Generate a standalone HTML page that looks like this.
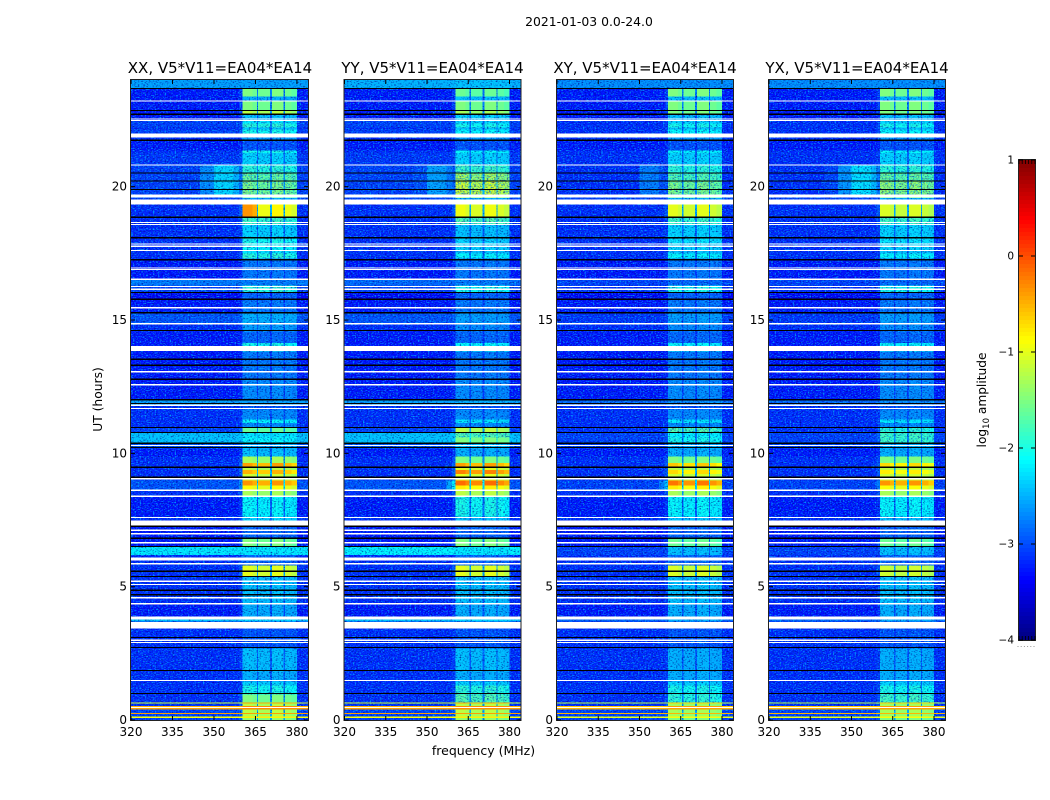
<!DOCTYPE html>
<html>
<head>
<meta charset="utf-8">
<title>2021-01-03 spectrogram</title>
<style>
html,body{margin:0;padding:0;background:#fff;width:1050px;height:800px;overflow:hidden}
svg{display:block}
text{font-family:"DejaVu Sans","Liberation Sans",sans-serif;fill:#000}
</style>
</head>
<body>
<svg id="figure" xmlns="http://www.w3.org/2000/svg" width="1050" height="800" viewBox="0 0 1050 800">
  <defs>
    <filter id="speckle-dark" x="0" y="0" width="100%" height="100%" color-interpolation-filters="sRGB">
      <feTurbulence type="fractalNoise" baseFrequency="0.55 0.8" numOctaves="1" seed="3"/>
      <feColorMatrix type="matrix" values="0 0 0 0 0  0 0 0 0 0  0 0 0 0 0.55  2.6 0 0 0 -1.3"/>
    </filter>
    <filter id="speckle-light" x="0" y="0" width="100%" height="100%" color-interpolation-filters="sRGB">
      <feTurbulence type="fractalNoise" baseFrequency="0.6 0.85" numOctaves="1" seed="11"/>
      <feColorMatrix type="matrix" values="0 0 0 0 0  0 0 0 0 0.75  0 0 0 0 1  3 0 0 0 -1.5"/>
    </filter>
  </defs>
  <rect x="0" y="0" width="1050" height="800" fill="#ffffff"/>
  <text x="589" y="26" font-size="12.4" text-anchor="middle">2021-01-03 0.0-24.0</text>
  <text x="483.5" y="755" font-size="12.5" text-anchor="middle">frequency (MHz)</text>
  <text transform="translate(102,399.5) rotate(-90)" font-size="12.3" text-anchor="middle">UT (hours)</text>
  <text transform="translate(986,400) rotate(-90)" font-size="12.2" text-anchor="middle">log<tspan font-size="8.5" dy="3">10</tspan><tspan dy="-3"> amplitude</tspan></text>
  <g id="panels"></g>
  <g id="colorbar"></g>
</svg>
<script>
// ---------- panel categories ----------
const panelTitles = ["XX, V5*V11=EA04*EA14", "YY, V5*V11=EA04*EA14", "XY, V5*V11=EA04*EA14", "YX, V5*V11=EA04*EA14"];
const freqTicks = [320, 335, 350, 365, 380];
const utTicks = [0, 5, 10, 15, 20];
const colorTicks = [1, 0, -1, -2, -3, -4];

// ---------- frequency channels (MHz edges) and how much each follows the in-band level ----------
const freqEdges = [320,330,340,345,350,354,357,359,360.4,362,364,365.5,366,368,370.2,370.9,373,375.2,375.6,378,380,384];
const bandWeight = [0,0,0,0,0,0,0,0.1,1,1,0.95,0.3,0.95,0.95,0.3,1,1,0.3,0.95,0.9,0];
const eveningBumpShape = [0,0.1,0.4,0.7,1,1,0.85,0.6,0,0,0,0,0,0,0,0,0,0,0,0,0];
const morningBumpShape = [0,0,0,0,0,0.2,0.7,1,0,0,0,0,0,0,0,0,0,0,0,0,0];

// ---------- time rows (upper UT edge in hours) ----------
const rowTopUT = [
24.00,23.68,23.38,23.19,22.86,22.71,22.46,22.37,22.22,22.14,
22.00,21.84,21.73,21.36,21.26,20.83,20.51,20.21,19.89,19.70,
19.58,19.33,18.85,18.56,18.08,17.87,17.58,17.50,17.31,16.52,
16.30,16.03,15.73,15.24,14.83,14.57,14.14,13.82,12.77,12.00,
11.84,11.64,11.27,11.14,10.97,10.78,10.60,10.40,10.18,9.88,
9.64,9.47,9.38,9.22,9.09,8.98,8.79,8.60,8.38,7.63,
7.29,6.82,6.51,6.18,5.98,5.79,5.36,4.33,3.76,3.69,
3.43,2.68,1.82,1.43,1.29,0.96,0.66,0.61,0.53,0.45,
0.39,0.27,0.225,0.13,0.08];

// ---------- log10 amplitude: out-of-band background per row ----------
const backgroundXX = [
-2.6,-3.3,-3.3,-3.3,-3.3,-3.3,-3.1,-3.1,-3.2,-3.1,
-3.1,-3.2,-3.3,-3.2,-3.15,-3.1,-3.1,-3.1,-3.1,-3.0,
-3.1,-3.2,-3.2,-3.2,-3.2,-3.2,-3.2,-3.2,-3.3,-2.8,
-3.1,-3.4,-3.3,-3.0,-3.2,-3.3,-3.3,-3.3,-3.3,-2.6,
-3.2,-3.2,-3.2,-3.2,-3.1,-2.4,-2.4,-3.0,-3.3,-3.2,
-3.2,-3.2,-3.2,-3.2,-3.1,-3.0,-3.0,-3.2,-3.3,-3.2,
-3.3,-3.3,-2.2,-3.2,-3.2,-3.2,-3.2,-3.3,-2.4,-3.2,
-3.2,-3.2,-3.2,-3.2,-3.2,-3.2,-1.1,-3.2,-0.5,-0.4,
-3.1,-0.4,-3.1,-0.9,-3.1];
const backgroundYY = [
-2.5,-3.3,-3.3,-3.3,-3.3,-3.3,-3.1,-3.1,-3.2,-3.1,
-3.1,-3.2,-3.3,-3.2,-3.15,-3.1,-3.1,-3.1,-3.1,-3.0,
-3.1,-3.2,-3.2,-3.2,-3.2,-3.2,-3.2,-3.2,-3.3,-2.9,
-3.1,-3.4,-3.3,-3.0,-3.2,-3.3,-3.3,-3.3,-3.3,-2.6,
-3.2,-3.2,-3.2,-3.2,-3.1,-2.4,-2.4,-3.0,-3.3,-3.2,
-3.2,-3.2,-3.2,-3.2,-3.1,-3.0,-3.0,-3.2,-3.3,-3.2,
-3.3,-3.3,-2.15,-3.2,-3.2,-3.2,-3.2,-3.3,-2.4,-3.2,
-3.2,-3.2,-3.2,-3.2,-3.2,-3.2,-1.1,-3.2,-0.5,-0.4,
-3.1,-0.4,-3.1,-0.9,-3.1];
const backgroundXY = [
-2.7,-3.3,-3.3,-3.3,-3.3,-3.3,-3.2,-3.2,-3.2,-3.2,
-3.2,-3.2,-3.3,-3.2,-3.2,-3.2,-3.2,-3.2,-3.2,-3.1,
-3.1,-3.2,-3.2,-3.2,-3.2,-3.2,-3.2,-3.2,-3.3,-3.1,
-3.2,-3.4,-3.3,-3.15,-3.2,-3.3,-3.3,-3.3,-3.3,-2.9,
-3.2,-3.2,-3.2,-3.2,-3.2,-3.1,-3.1,-3.1,-3.3,-3.2,
-3.2,-3.2,-3.2,-3.2,-3.2,-3.1,-3.1,-3.2,-3.3,-3.2,
-3.3,-3.3,-3.1,-3.2,-3.2,-3.2,-3.2,-3.3,-2.9,-3.2,
-3.2,-3.2,-3.2,-3.2,-3.2,-3.2,-1.2,-3.2,-0.6,-0.5,
-3.1,-0.5,-3.1,-1.0,-3.1];
const backgroundYX = [
-2.7,-3.3,-3.3,-3.3,-3.3,-3.3,-3.2,-3.2,-3.2,-3.2,
-3.2,-3.2,-3.3,-3.2,-3.2,-3.2,-3.2,-3.2,-3.2,-3.1,
-3.1,-3.2,-3.2,-3.2,-3.2,-3.2,-3.2,-3.2,-3.3,-3.1,
-3.2,-3.4,-3.3,-3.15,-3.2,-3.3,-3.3,-3.3,-3.3,-2.9,
-3.2,-3.2,-3.2,-3.2,-3.2,-3.1,-3.1,-3.1,-3.3,-3.2,
-3.2,-3.2,-3.2,-3.2,-3.2,-3.1,-3.1,-3.2,-3.3,-3.2,
-3.3,-3.3,-3.1,-3.2,-3.2,-3.2,-3.2,-3.3,-2.9,-3.2,
-3.2,-3.2,-3.2,-3.2,-3.2,-3.2,-1.2,-3.2,-0.6,-0.5,
-3.1,-0.5,-3.1,-1.0,-3.1];

// ---------- log10 amplitude: level in the 360-380 MHz band per row ----------
const bandXX = [
-2.6,-1.5,-2.5,-1.5,-1.2,-2.4,-2.2,-1.9,-2.4,-2.0,
-2.4,-2.6,-3.0,-2.0,-2.3,-1.9,-1.6,-1.5,-1.5,-1.6,
-2.5,-0.85,-1.8,-2.3,-2.0,-2.1,-2.2,-1.9,-2.8,-2.8,
-1.9,-2.9,-2.8,-2.5,-2.6,-2.9,-2.0,-2.8,-2.7,-2.6,
-3.0,-2.7,-2.1,-2.7,-1.6,-2.2,-2.1,-2.5,-2.4,-1.3,
-0.4,-1.2,-0.5,-1.1,-1.1,-0.35,-0.9,-1.3,-2.1,-2.3,
-2.9,-1.5,-2.2,-2.9,-2.9,-1.0,-2.4,-2.5,-2.3,-3.0,
-3.0,-2.4,-2.5,-2.3,-2.0,-1.5,-0.4,-1.2,-0.3,-0.3,
-1.2,-0.4,-1.2,-0.8,-1.4];
const bandYY = [
-2.4,-1.6,-2.4,-1.5,-1.3,-2.3,-2.3,-2.0,-2.4,-2.1,
-2.4,-2.6,-3.0,-2.1,-2.3,-1.8,-1.3,-1.1,-1.1,-1.3,
-2.5,-0.95,-1.7,-2.4,-2.3,-2.3,-2.4,-2.1,-2.8,-2.8,
-2.0,-2.9,-2.8,-2.6,-2.7,-2.9,-2.1,-2.8,-2.7,-2.5,
-3.0,-2.7,-2.2,-2.7,-1.2,-1.7,-1.5,-2.4,-2.5,-1.5,
-0.4,-1.0,-0.25,-1.0,-1.0,-0.15,-0.8,-1.2,-2.0,-2.4,
-2.9,-1.5,-2.2,-2.9,-2.9,-1.0,-2.4,-2.5,-2.3,-3.0,
-3.0,-2.4,-2.5,-2.3,-1.9,-1.7,-0.4,-1.2,-0.3,-0.3,
-1.2,-0.4,-1.2,-0.8,-1.4];
const bandXY = [
-2.7,-1.5,-2.4,-1.5,-1.5,-2.4,-2.3,-2.0,-2.4,-2.1,
-2.4,-2.6,-3.0,-2.1,-2.3,-1.9,-1.7,-1.5,-1.5,-1.6,
-2.5,-1.0,-1.8,-2.3,-2.2,-2.3,-2.4,-2.1,-2.8,-2.9,
-2.0,-2.9,-2.8,-2.6,-2.7,-2.9,-2.1,-2.8,-2.7,-2.7,
-3.0,-2.7,-2.2,-2.7,-1.7,-2.1,-2.0,-2.5,-2.5,-1.5,
-0.6,-1.2,-0.7,-1.1,-1.1,-0.2,-0.8,-1.3,-2.1,-2.4,
-2.9,-1.6,-2.4,-2.9,-2.9,-1.05,-2.4,-2.5,-2.5,-3.0,
-3.0,-2.5,-2.5,-2.3,-2.0,-1.9,-0.6,-1.3,-0.4,-0.4,
-1.3,-0.5,-1.3,-0.9,-1.5];
const bandYX = [
-2.7,-1.5,-2.4,-1.5,-1.5,-2.4,-2.3,-2.0,-2.4,-2.1,
-2.4,-2.6,-3.0,-2.1,-2.3,-1.9,-1.6,-1.4,-1.4,-1.5,
-2.5,-1.05,-1.8,-2.3,-2.2,-2.3,-2.4,-2.1,-2.8,-2.9,
-2.0,-2.9,-2.8,-2.6,-2.7,-2.9,-2.1,-2.8,-2.7,-2.7,
-3.0,-2.7,-2.2,-2.7,-1.9,-1.8,-1.8,-2.5,-2.5,-1.5,
-0.7,-1.2,-0.8,-1.1,-1.1,-0.35,-0.9,-1.3,-2.1,-2.4,
-2.9,-1.6,-2.4,-2.9,-2.9,-1.1,-2.4,-2.5,-2.5,-3.0,
-3.0,-2.5,-2.5,-2.3,-2.0,-1.8,-0.6,-1.3,-0.4,-0.4,
-1.3,-0.5,-1.3,-0.9,-1.5];

// ---------- diffuse low-frequency emission peaks ----------
const eveningBumpHighUT = 20.83;
const eveningBumpLowUT = 19.70;
const eveningBumpPeak = [-2.3, -2.6, -2.8, -2.25];
const morningBumpHighUT = 8.98;
const morningBumpLowUT = 8.6;
const morningBumpPeak = [-2.7, -2.2, -2.4, -2.8];
const firstSubbandBoostHighUT = 19.33;
const firstSubbandBoostLowUT = 18.85;
const firstSubbandBoost = [0.5, 0, 0, 0];

// ---------- flagged (white) and zero-valued (black) integrations, UT hours ----------
const whiteLinesUT = [23.2125,22.5375,22.481,20.8125,18.656,18.581,17.85,17.7675,17.606,16.95,16.894,16.53,16.256,16.155,15.4575,14.8575,13.0575,12.57,11.681,10.294,9.045,8.3925,7.1175,6.9825,6.645,5.8575,5.205,5.081,4.5825,4.3575,2.9925,2.906,1.481,0.469];
const whiteBandLowUT =  [21.84,19.59,19.33,13.83,11.78,8.58,7.57,7.29,5.98,3.76,3.44];
const whiteBandHighUT = [22.00,19.71,19.52,14.03,11.83,8.65,7.62,7.48,6.10,3.88,3.68];
const blackLinesUT = [23.681,22.856,22.7175,21.7425,20.5125,20.2125,19.894,18.851,18.0825,17.261,16.031,15.776,15.27,14.606,13.53,13.305,12.78,12.0075,11.869,10.969,10.781,10.376,10.219,9.48,9.105,7.2675,6.8175,6.506,5.58,5.381,4.8675,4.695,3.094,2.719,1.856,0.994];

const backgrounds = [backgroundXX, backgroundYY, backgroundXY, backgroundYX];
const bands = [bandXX, bandYY, bandXY, bandYX];

// ---------- layout ----------
const NS = "http://www.w3.org/2000/svg";
const panelLefts = [131, 344.5, 557, 769];
const panelWidths = [177, 176, 176, 176];
const plotTop = 80, plotBottom = 720;
const freqMin = 320, freqMax = 384, utMin = 0, utMax = 24, colorMin = -4, colorMax = 1;
const smoothBandAbove = -1.65, smoothBackgroundAbove = -1.5;

function yScale(ut) { return plotBottom - (ut - utMin) / (utMax - utMin) * (plotBottom - plotTop); }
function xScale(p, f) { return panelLefts[p] + (f - freqMin) / (freqMax - freqMin) * panelWidths[p]; }
function jet(v) {
  const t = Math.max(0, Math.min(1, (v - colorMin) / (colorMax - colorMin)));
  function ch(c) { return Math.round(255 * Math.max(0, Math.min(1, 1.5 - Math.abs(4 * t - c)))); }
  return "rgb(" + ch(3) + "," + ch(2) + "," + ch(1) + ")";
}
function make(tag, parent, props) {
  const el = document.createElementNS(NS, tag);
  for (const k in props) el.setAttribute(k, props[k]);
  parent.appendChild(el);
  return el;
}
function inEvening(r) {
  const ut = rowTopUT[r] - 0.001;
  return ut <= eveningBumpHighUT && ut > eveningBumpLowUT;
}
function cellValue(p, r, c) {
  const ut = rowTopUT[r] - 0.001;
  let v = backgrounds[p][r] + (bands[p][r] - backgrounds[p][r]) * bandWeight[c];
  if (inEvening(r) && eveningBumpShape[c] > 0) {
    v = Math.max(v, eveningBumpPeak[p] - 1.4 * (1 - eveningBumpShape[c]));
  }
  if (ut <= morningBumpHighUT && ut > morningBumpLowUT && morningBumpShape[c] > 0) {
    v = Math.max(v, morningBumpPeak[p] - 1.2 * (1 - morningBumpShape[c]));
  }
  if (ut <= firstSubbandBoostHighUT && ut > firstSubbandBoostLowUT && c >= 8 && c <= 10) {
    v += firstSubbandBoost[p];
  }
  return v;
}
function isSmooth(p, r, c) {
  if (backgrounds[p][r] > smoothBackgroundAbove) return true;
  return !inEvening(r) && bands[p][r] > smoothBandAbove && bandWeight[c] > 0.5;
}

const panelsGroup = document.getElementById("panels");
panelTitles.forEach(function (title, p) {
  const left = panelLefts[p], width = panelWidths[p], right = left + width;
  const g = make("g", panelsGroup, {});
  
  

  const cells = make("g", g, { "shape-rendering": "crispEdges" });
  
  

  const dark = make("rect", g, { x: left, y: plotTop, width: width, height: plotBottom - plotTop, filter: "url(#speckle-dark)" });
  
  
  const light = make("rect", g, { x: left, y: plotTop, width: width, height: plotBottom - plotTop, filter: "url(#speckle-light)" });
  
  

  const brightCells = make("g", g, { "shape-rendering": "crispEdges" });
  
  

  rowTopUT.forEach(function (top, r) {
    const bottom = r + 1 < rowTopUT.length ? rowTopUT[r + 1] : utMin;
    for (let c = 0; c < bandWeight.length; c++) {
      const x0 = xScale(p, freqEdges[c]), x1 = xScale(p, freqEdges[c + 1]);
      const cell = make("rect", isSmooth(p, r, c) ? brightCells : cells, { x: x0, y: yScale(top), width: x1 - x0, height: yScale(bottom) - yScale(top), fill: jet(cellValue(p, r, c)) });
      
      
    }
  });

  const flags = make("g", g, { "shape-rendering": "crispEdges" });
  
  
  blackLinesUT.forEach(function (ut) {
    const line = make("rect", flags, { x: left, y: yScale(ut) - 0.6, width: width, height: 1.2, fill: "#000" });
    
    
  });
  whiteLinesUT.forEach(function (ut) {
    const line = make("rect", flags, { x: left, y: yScale(ut) - 0.6, width: width, height: 1.2, fill: "#fff" });
    
    
  });
  whiteBandLowUT.forEach(function (low, i) {
    const band = make("rect", flags, { x: left, y: yScale(whiteBandHighUT[i]), width: width, height: yScale(low) - yScale(whiteBandHighUT[i]), fill: "#fff" });
    
    
  });

  const frame = make("rect", g, { x: left - 0.5, y: plotTop - 0.5, width: width + 1, height: plotBottom - plotTop + 1, fill: "none", stroke: "#222", "stroke-width": 1 });
  
  

  const titleEl = make("text", g, { x: left + width / 2 + (p === 0 ? 0.5 : 0), y: 73, "font-size": 15, "text-anchor": "middle" });
  titleEl.textContent = title;
  
  

  freqTicks.forEach(function (f) {
    const x = xScale(p, f);
    const t1 = make("line", g, { x1: x, x2: x, y1: plotBottom, y2: plotBottom - 4, stroke: "#000", "stroke-width": 1 });
    
    
    const t2 = make("line", g, { x1: x, x2: x, y1: plotTop, y2: plotTop + 4, stroke: "#000", "stroke-width": 1 });
    
    
    const label = make("text", g, { x: x, y: 736, "font-size": 12, "text-anchor": "middle" });
    label.textContent = f;
    
    
  });
  utTicks.forEach(function (ut) {
    const y = yScale(ut);
    const t1 = make("line", g, { x1: left, x2: left + 4, y1: y, y2: y, stroke: "#000", "stroke-width": 1 });
    
    
    const t2 = make("line", g, { x1: right, x2: right - 4, y1: y, y2: y, stroke: "#000", "stroke-width": 1 });
    
    
    const label = make("text", g, { x: left - 4, y: y + 4, "font-size": 12, "text-anchor": "end" });
    label.textContent = ut;
    
    
  });
});

// ---------- colorbar ----------
const barLeft = 1019, barRight = 1035, barTop = 160, barBottom = 640;
function colorScale(v) { return barBottom - (v - colorMin) / (colorMax - colorMin) * (barBottom - barTop); }
const barGroup = document.getElementById("colorbar");
const barSteps = make("g", barGroup, { "shape-rendering": "crispEdges" });


for (let i = 0; i < 120; i++) {
  const v0 = colorMin + (colorMax - colorMin) * i / 120;
  const v1 = colorMin + (colorMax - colorMin) * (i + 1) / 120;
  const step = make("rect", barSteps, { x: barLeft, y: colorScale(v1), width: barRight - barLeft, height: colorScale(v0) - colorScale(v1), fill: jet((v0 + v1) / 2) });
  
  
}
const barFrame = make("rect", barGroup, { x: barLeft - 0.5, y: barTop - 0.5, width: barRight - barLeft + 1, height: barBottom - barTop + 1, fill: "none", stroke: "#222", "stroke-width": 1 });


colorTicks.forEach(function (v) {
  const y = colorScale(v);
  const a = make("line", barGroup, { x1: barLeft, x2: barLeft + 4, y1: y, y2: y, stroke: "#000", "stroke-width": 1 });
  
  
  const b = make("line", barGroup, { x1: barRight, x2: barRight - 4, y1: y, y2: y, stroke: "#000", "stroke-width": 1 });
  
  
  const label = make("text", barGroup, { x: barLeft - 5, y: y + 3.5, "font-size": 10.5, "text-anchor": "end" });
  label.textContent = v < 0 ? "\u2212" + Math.abs(v) : String(v);
  
  
});
for (let i = 0; i < 6; i++) {
  const x = barLeft + i * 3.2;
  const top = make("line", barGroup, { x1: x, x2: x, y1: barTop, y2: barTop + 4, stroke: "#000", "stroke-width": 0.8 });
  
  
  const bottom = make("line", barGroup, { x1: x, x2: x, y1: barBottom, y2: barBottom - 4, stroke: "#000", "stroke-width": 0.8 });
  
  
  const dot = make("rect", barGroup, { x: x - 1.5, y: 646, width: 1, height: 1, fill: "#999" });
  
  
}
</script>
</body>
</html>
